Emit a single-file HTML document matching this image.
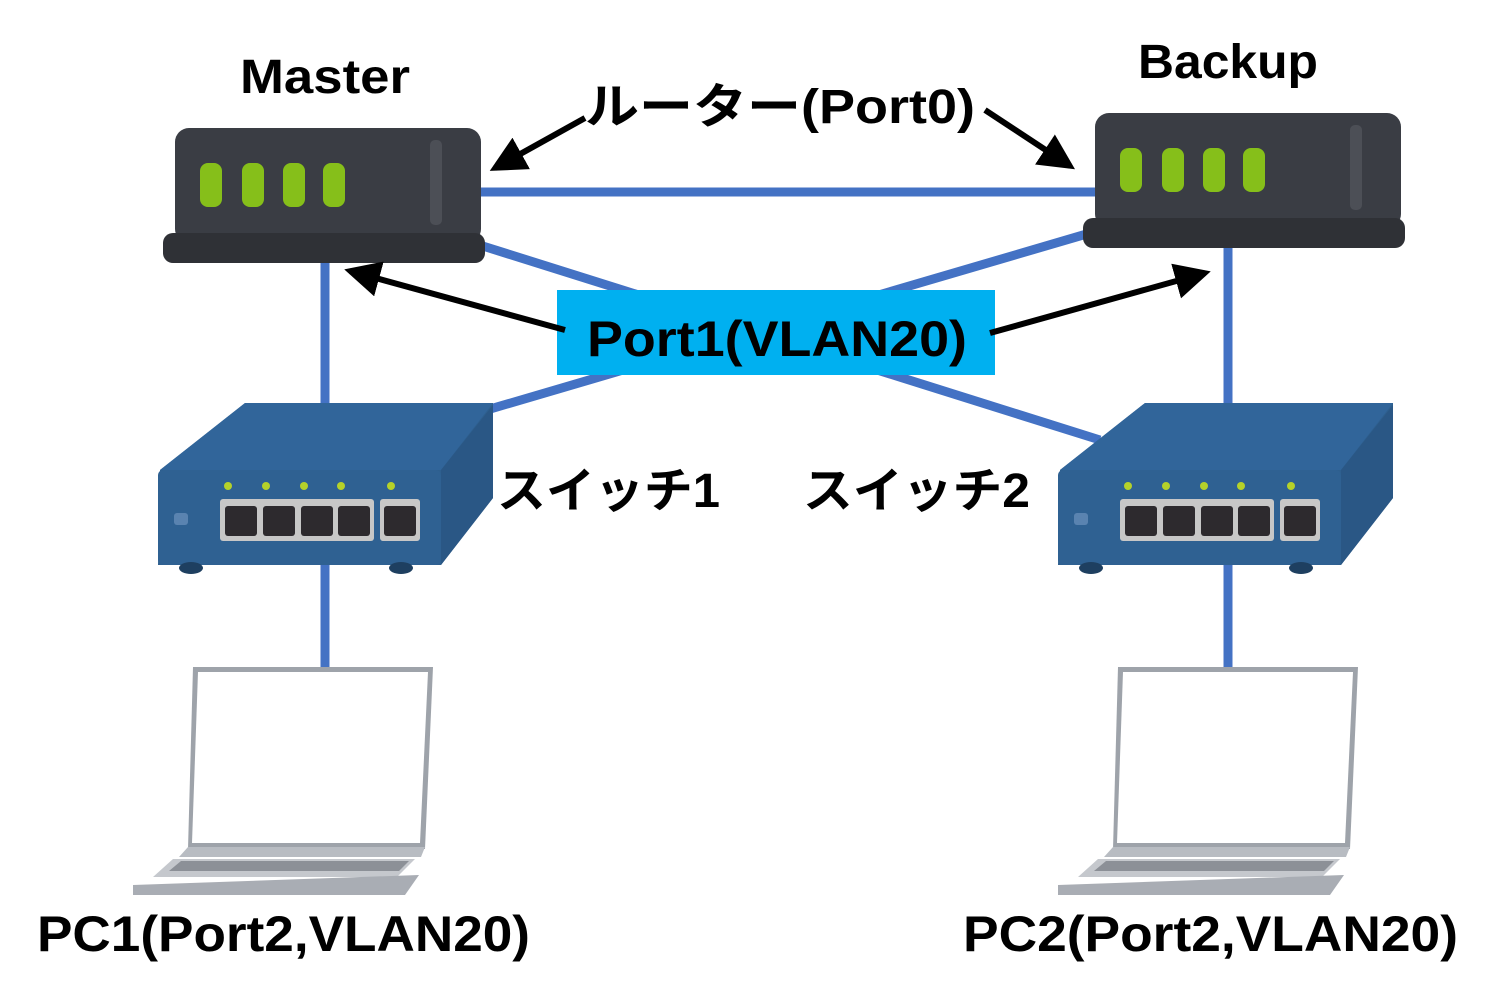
<!DOCTYPE html>
<html><head><meta charset="utf-8"><style>
body{margin:0;background:#fff;}
svg{display:block}
text{font-family:"Liberation Sans","Noto Sans CJK JP",sans-serif;font-weight:bold;fill:#000}
</style></head><body>
<svg width="1493" height="997" viewBox="0 0 1493 997" xmlns="http://www.w3.org/2000/svg">
<defs>
<marker id="ah" markerWidth="6" markerHeight="6" refX="5" refY="3" orient="auto" markerUnits="strokeWidth"><path d="M0,0 L6,3 L0,6 z" fill="#000"/></marker>
<g id="router">
 <rect x="0" y="0" width="306" height="115" rx="14" fill="#3a3d44"/>
 <rect x="-12" y="105" width="322" height="30" rx="10" fill="#2f3136"/>
 <rect x="255" y="12" width="12" height="85" rx="5" fill="#4c4f56"/>
 <rect x="25" y="35" width="22" height="44" rx="8" fill="#86bf1a"/>
 <rect x="67" y="35" width="22" height="44" rx="8" fill="#86bf1a"/>
 <rect x="108" y="35" width="22" height="44" rx="8" fill="#86bf1a"/>
 <rect x="148" y="35" width="22" height="44" rx="8" fill="#86bf1a"/>
</g>
<g id="switch">
 <polygon points="2,67 87,0 335,0 335,95 283,162 0,162" fill="#2e5f8e"/>
 <polygon points="2,67 87,0 335,0 283,67" fill="#31659a"/>
 <rect x="0" y="67" width="283" height="95" rx="5" fill="#2f6192"/>
 <polygon points="283,67 335,2 335,95 283,162" fill="#2a5785"/>
 <rect x="62" y="96" width="154" height="42" rx="3" fill="#c7c7c7"/>
 <rect x="222" y="96" width="40" height="42" rx="3" fill="#c7c7c7"/>
 <rect x="67" y="103" width="32" height="30" rx="3" fill="#2d2a2e"/>
 <rect x="105" y="103" width="32" height="30" rx="3" fill="#2d2a2e"/>
 <rect x="143" y="103" width="32" height="30" rx="3" fill="#2d2a2e"/>
 <rect x="180" y="103" width="32" height="30" rx="3" fill="#2d2a2e"/>
 <rect x="226" y="103" width="32" height="30" rx="3" fill="#2d2a2e"/>
 <circle cx="70" cy="83" r="4" fill="#b5d12a"/><circle cx="108" cy="83" r="4" fill="#b5d12a"/>
 <circle cx="146" cy="83" r="4" fill="#b5d12a"/><circle cx="183" cy="83" r="4" fill="#b5d12a"/>
 <circle cx="233" cy="83" r="4" fill="#b5d12a"/>
 <rect x="16" y="110" width="14" height="12" rx="3" fill="#5a83b0"/>
 <ellipse cx="33" cy="165" rx="12" ry="6" fill="#1e3f60"/><ellipse cx="243" cy="165" rx="12" ry="6" fill="#1e3f60"/>
</g>
<g id="laptop">
 <polygon points="60,0 300,0 292,182 55,182" fill="#9ea3aa"/>
 <polygon points="65,5 295,5 287,176 59,176" fill="#fff"/>
 <polygon points="55,180 292,180 288,190 46,190" fill="#b8bcc2"/>
 <polygon points="40,192 282,192 264,210 20,210" fill="#c5c8cd"/>
 <polygon points="48,194 276,194 266,204 36,204" fill="#8c9097"/>
 <polygon points="0,218 286,208 272,228 0,228" fill="#a9adb4"/>
</g>
</defs>
<g stroke="#4472c4" stroke-width="9" fill="none">
 <line x1="470" y1="192" x2="1100" y2="192"/>
 <line x1="325" y1="255" x2="325" y2="410"/>
 <line x1="1228" y1="240" x2="1228" y2="410"/>
 <line x1="470" y1="242" x2="1100" y2="440"/>
 <line x1="1090" y1="233" x2="480" y2="412"/>
 <line x1="325" y1="560" x2="325" y2="668"/>
 <line x1="1228" y1="560" x2="1228" y2="668"/>
</g>
<use href="#router" x="175" y="128"/>
<use href="#router" x="1095" y="113"/>
<use href="#switch" x="158" y="403"/>
<use href="#switch" x="1058" y="403"/>
<use href="#laptop" x="133" y="667"/>
<use href="#laptop" x="1058" y="667"/>
<rect x="557" y="290" width="438" height="85" fill="#00b0f0"/>
<g stroke="#000" stroke-width="6" fill="none">
 <line x1="585" y1="118" x2="495" y2="168" marker-end="url(#ah)"/>
 <line x1="985" y1="110" x2="1070" y2="166" marker-end="url(#ah)"/>
 <line x1="565" y1="330" x2="350" y2="271" marker-end="url(#ah)"/>
 <line x1="990" y1="333" x2="1205" y2="273" marker-end="url(#ah)"/>
</g>
<text x="240" y="93" font-size="48" textLength="170" lengthAdjust="spacingAndGlyphs">Master</text>
<text x="1138" y="78" font-size="48" textLength="180" lengthAdjust="spacingAndGlyphs">Backup</text>
<text x="585" y="123" font-size="48" textLength="390" lengthAdjust="spacingAndGlyphs">ルーター(Port0)</text>
<text x="587" y="356" font-size="50" textLength="380" lengthAdjust="spacingAndGlyphs">Port1(VLAN20)</text>
<text x="497" y="507" font-size="48" textLength="223" lengthAdjust="spacingAndGlyphs">スイッチ1</text>
<text x="803" y="507" font-size="48" textLength="227" lengthAdjust="spacingAndGlyphs">スイッチ2</text>
<text x="37" y="951" font-size="50" textLength="493" lengthAdjust="spacingAndGlyphs">PC1(Port2,VLAN20)</text>
<text x="963" y="951" font-size="50" textLength="495" lengthAdjust="spacingAndGlyphs">PC2(Port2,VLAN20)</text>
</svg>
</body></html>
